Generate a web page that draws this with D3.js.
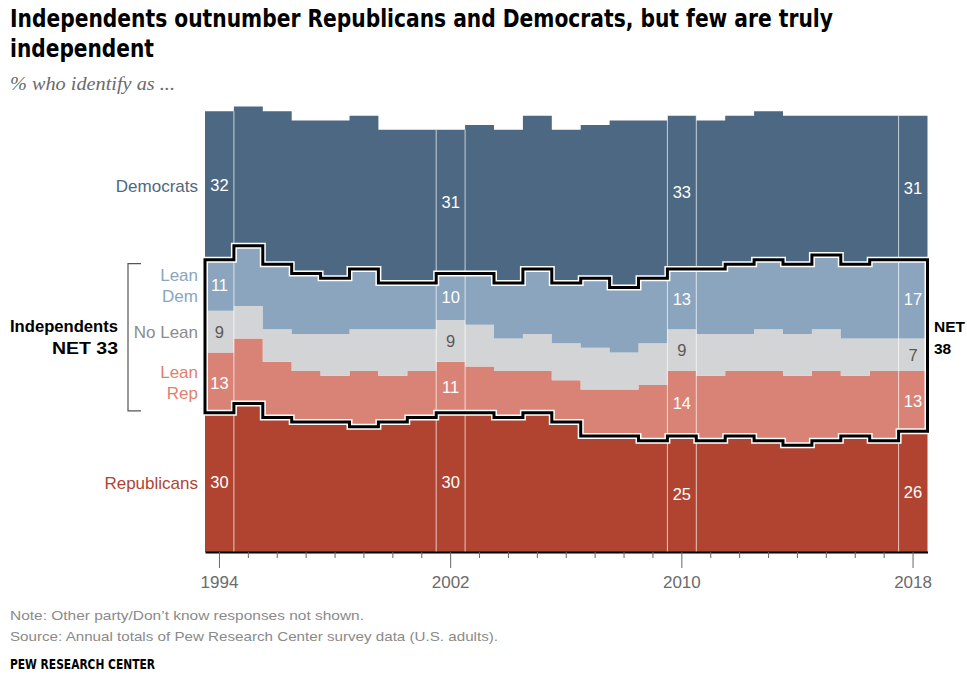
<!DOCTYPE html>
<html>
<head>
<meta charset="utf-8">
<script src="https://cdn.jsdelivr.net/npm/d3@7"></script>
<style>
  body { margin: 0; background: #fff; }
  svg text { font-family: "Liberation Sans", Arial, sans-serif; }
  .cond { font-family: "Liberation Sans Narrow", "DejaVu Sans Condensed", "Liberation Sans", sans-serif !important; }
  .serif { font-family: "Liberation Serif", "DejaVu Serif", serif !important; }
</style>
</head>
<body>
<svg id="chart" width="967" height="674"></svg>
<script>
// annual party identification, % of U.S. adults
const years = [1994, 1995, 1996, 1997, 1998, 1999, 2000, 2001, 2002, 2003, 2004, 2005, 2006,
               2007, 2008, 2009, 2010, 2011, 2012, 2013, 2014, 2015, 2016, 2017, 2018];
const dem     = [32, 30, 33, 33, 34, 33, 33, 33, 31, 32, 33, 33, 33, 33, 36, 34, 33, 32, 32, 32, 32, 30, 32, 31, 31];
const leanDem = [11, 13, 14, 13, 12, 13, 10, 10, 10, 11, 12, 14, 13, 15, 14, 14, 13, 14, 15, 15, 15, 16, 16, 17, 17];
const noLean  = [ 9,  7,  7,  8,  9,  9, 10,  9,  9,  9,  7,  8,  8,  9,  8,  9,  9,  9,  8,  9,  9,  9,  8,  7,  7];
const leanRep = [13, 14, 12, 11, 10, 12, 10, 10, 11, 10, 10,  9,  9, 10, 10, 12, 14, 14, 14, 15, 15, 15, 13, 15, 13];
const rep     = [30, 32, 29, 28, 28, 27, 28, 29, 30, 30, 29, 30, 28, 25, 25, 24, 25, 24, 25, 24, 23, 24, 25, 24, 26];
const highlightYears = [1994, 2002, 2010, 2018];
const netIndependents = [33, 38]; // first and last year, as printed

const keys = ["rep", "leanRep", "noLean", "leanDem", "dem"];
const colors = {dem: "#4d6882", leanDem: "#8aa5bd", noLean: "#d3d4d5", leanRep: "#d98376", rep: "#b04431"};
const labelColors = {dem: "#fff", leanDem: "#fff", noLean: "#595959", leanRep: "#fff", rep: "#fff"};

const svg = d3.select("#chart");

const x = d3.scaleBand().domain(years).range([205, 927.5]);
const y = d3.scaleLinear().domain([0, 95]).range([552, 111.2]);
const xEnd = x.range()[1];

const rows = years.map((yr, i) => ({
  year: yr, dem: dem[i], leanDem: leanDem[i], noLean: noLean[i], leanRep: leanRep[i], rep: rep[i]
}));
const series = d3.stack().keys(keys)(rows);

// step points: one per year at its left edge, plus a closing point at the right edge
function stepPoints(lo, hi) {
  const pts = years.map((yr, i) => ({x: x(yr), lo: lo(i), hi: hi(i)}));
  const last = pts[pts.length - 1];
  pts.push({x: xEnd, lo: last.lo, hi: last.hi});
  return pts;
}

const area = d3.area()
  .curve(d3.curveStepAfter)
  .x(d => d.x)
  .y0(d => y(d.lo))
  .y1(d => y(d.hi));

svg.append("g").selectAll("path")
  .data(series)
  .enter().append("path")
    .attr("fill", s => colors[s.key])
    .attr("d", s => area(stepPoints(i => s[i][0], i => s[i][1])));

// thin white separators round the highlighted years
const sepG = svg.append("g");
highlightYears.forEach(yr => {
  const i = years.indexOf(yr);
  const top = y(series[4][i][1]);
  [x(yr), x(yr) + x.bandwidth()].forEach(px => {
    if (px <= x.range()[0] + 1 || px >= xEnd - 1) return;
    sepG.append("line")
      .attr("x1", px).attr("x2", px)
      .attr("y1", top).attr("y2", y(0))
      .attr("stroke", "#fff").attr("stroke-opacity", 0.7).attr("stroke-width", 1);
  });
});

// outline of the independents block (lean rep .. lean dem)
const indPts = stepPoints(i => series[0][i][1], i => series[3][i][1]);
const outline = svg.append("g");
outline.append("path")
  .attr("d", area(indPts) + "Z")
  .attr("fill", "none").attr("stroke", "#fff").attr("stroke-width", 6);
outline.append("path")
  .attr("d", area(indPts) + "Z")
  .attr("fill", "none").attr("stroke", "#000").attr("stroke-width", 3);

// values in the highlighted years
const valG = svg.append("g");
series.forEach(s => {
  highlightYears.forEach(yr => {
    const i = years.indexOf(yr);
    valG.append("text")
      .attr("x", x(yr) + x.bandwidth() / 2)
      .attr("y", y((s[i][0] + s[i][1]) / 2))
      .attr("dy", "0.36em")
      .attr("text-anchor", "middle")
      .attr("font-size", 16.5)
      .attr("fill", labelColors[s.key])
      .text(s[i].data[s.key]);
  });
});

// x axis
const axis = d3.axisBottom(x)
  .tickSizeOuter(0)
  .tickFormat(d => highlightYears.includes(d) ? d : "");
const ax = svg.append("g").attr("transform", `translate(0,${y(0)})`).call(axis);
ax.select(".domain").attr("stroke", "#000").attr("stroke-width", 2);
ax.selectAll(".tick line")
  .attr("stroke", "#666")
  .attr("y2", d => highlightYears.includes(d) ? 16 : 6);
ax.selectAll(".tick text")
  .attr("y", 24)
  .attr("font-size", 17)
  .attr("fill", "#6b6b6b");

// category labels on the left, centred on the 1994 segments
const labelG = svg.append("g").attr("text-anchor", "end").attr("font-size", 17);
const leftLabels = [
  {key: "dem", lines: ["Democrats"], color: "#4d6882"},
  {key: "leanDem", lines: ["Lean", "Dem"], color: "#8aa5bd"},
  {key: "noLean", lines: ["No Lean"], color: "#8c8c8c"},
  {key: "leanRep", lines: ["Lean", "Rep"], color: "#e07f70"},
  {key: "rep", lines: ["Republicans"], color: "#b04431"}
];
leftLabels.forEach(l => {
  const s = series.find(d => d.key === l.key);
  const mid = y((s[0][0] + s[0][1]) / 2);
  l.lines.forEach((t, j) => {
    labelG.append("text")
      .attr("x", 198)
      .attr("y", mid + (j - (l.lines.length - 1) / 2) * 21)
      .attr("dy", "0.36em")
      .attr("fill", l.color)
      .text(t);
  });
});

// bracket for independents
const bTop = y(series[3][0][1]) + 4, bBot = y(series[0][0][1]) - 2;
svg.append("path")
  .attr("d", `M141,${bTop}H128V${bBot}H141`)
  .attr("fill", "none").attr("stroke", "#555").attr("stroke-width", 1.2);

function fit(sel, w) {
  if (sel.node().getComputedTextLength() > 0) sel.attr("textLength", w).attr("lengthAdjust", "spacingAndGlyphs");
  return sel;
}

const netMid = (bTop + bBot) / 2;
const netG = svg.append("g").attr("font-weight", "bold").attr("font-size", 17).attr("fill", "#000");
fit(netG.append("text").attr("x", 10).attr("y", netMid - 11).attr("dy", "0.36em")
  .text("Independents"), 108);
fit(netG.append("text").attr("x", 52).attr("y", netMid + 11).attr("dy", "0.36em")
  .text("NET " + netIndependents[0]), 66);
const netR = netG.append("g").attr("font-size", 15.5);
netR.append("text").attr("x", 934).attr("y", netMid - 11).attr("dy", "0.36em").text("NET");
netR.append("text").attr("x", 934).attr("y", netMid + 11).attr("dy", "0.36em").text(netIndependents[1]);

// title, subtitle, notes
fit(svg.append("text").attr("class", "cond").attr("x", 10).attr("y", 27)
  .attr("font-size", 24).attr("font-weight", "bold").attr("fill", "#000")
  .text("Independents outnumber Republicans and Democrats, but few are truly"), 823);
fit(svg.append("text").attr("class", "cond").attr("x", 10).attr("y", 57)
  .attr("font-size", 24).attr("font-weight", "bold").attr("fill", "#000")
  .text("independent"), 144);

fit(svg.append("text").attr("class", "serif").attr("x", 10).attr("y", 90)
  .attr("font-style", "italic").attr("font-size", 18).attr("fill", "#6b6b6b")
  .text("% who identify as ..."), 165);

fit(svg.append("text").attr("x", 10).attr("y", 620).attr("font-size", 13.5).attr("fill", "#8a8a8a")
  .text("Note: Other party/Don\u2019t know responses not shown."), 354);
fit(svg.append("text").attr("x", 10).attr("y", 641).attr("font-size", 13.5).attr("fill", "#8a8a8a")
  .text("Source: Annual totals of Pew Research Center survey data (U.S. adults)."), 488);
fit(svg.append("text").attr("class", "cond").attr("x", 10).attr("y", 669).attr("font-size", 14)
  .attr("font-weight", "bold").attr("fill", "#000")
  .text("PEW RESEARCH CENTER"), 145);
</script>
</body>
</html>
